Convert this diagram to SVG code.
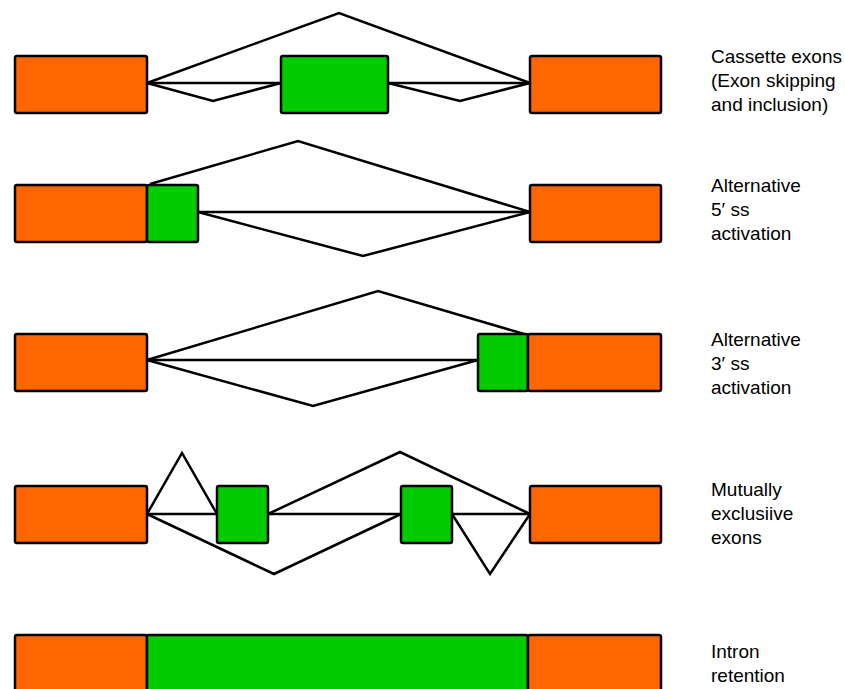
<svg xmlns="http://www.w3.org/2000/svg" width="845" height="689" viewBox="0 0 845 689">
<style>
.o{fill:#ff6600;stroke:#000;stroke-width:2.5}
.g{fill:#00cc00;stroke:#000;stroke-width:2.5}
.c{fill:none;stroke:#000;stroke-width:2.5;stroke-linejoin:miter}
text{font-family:"Liberation Sans",Arial,sans-serif;font-size:19px;fill:#000}
</style>
<rect width="845" height="689" fill="#fff"/>
<g id="connectors">
<polyline class="c" points="147,83 339,13 530,83"/>
<polyline class="c" points="147,83 281,83"/>
<polyline class="c" points="147,83 213,101 281,83"/>
<polyline class="c" points="388,83 530,83"/>
<polyline class="c" points="388,83 460,101 530,83"/>
<polyline class="c" points="150,184 298,141 530,212"/>
<polyline class="c" points="198,212 530,212"/>
<polyline class="c" points="198,212 363,256 530,212"/>
<polyline class="c" points="147,360 378,291 524,334"/>
<polyline class="c" points="147,360 478,360"/>
<polyline class="c" points="147,360 313,406 478,360"/>
<polyline class="c" points="147,514 530,514"/>
<polyline class="c" points="147,514 182,453 217,514"/>
<polyline class="c" points="268,514 400,452 530,514"/>
<polyline class="c" points="147,514 274,574 401,514"/>
<polyline class="c" points="452,514 490,574 530,514"/>
</g>
<g id="row1">
<rect id="r1a" class="o" x="15" y="56" width="132" height="57" rx="2"/>
<rect id="r1b" class="g" x="281" y="56" width="107" height="57" rx="2"/>
<rect id="r1c" class="o" x="530" y="56" width="131" height="57" rx="2"/>
<text x="711" y="63">Cassette exons</text>
<text x="711" y="87">(Exon skipping</text>
<text x="711" y="111">and inclusion)</text>
</g>
<g id="row2">
<rect id="r2a" class="o" x="15" y="185" width="132" height="57" rx="2"/>
<rect id="r2b" class="g" x="147" y="185" width="51" height="57" rx="2"/>
<rect id="r2c" class="o" x="530" y="185" width="131" height="57" rx="2"/>
<text x="711" y="192">Alternative</text>
<text x="711" y="216">5′ ss</text>
<text x="711" y="240">activation</text>
</g>
<g id="row3">
<rect id="r3a" class="o" x="15" y="334" width="132" height="57" rx="2"/>
<rect id="r3b" class="g" x="478" y="334" width="50" height="57" rx="2"/>
<rect id="r3c" class="o" x="528" y="334" width="133" height="57" rx="2"/>
<text x="711" y="346">Alternative</text>
<text x="711" y="370">3′ ss</text>
<text x="711" y="394">activation</text>
</g>
<g id="row4">
<rect id="r4a" class="o" x="15" y="486" width="132" height="57" rx="2"/>
<rect id="r4b" class="g" x="217" y="486" width="51" height="57" rx="2"/>
<rect id="r4c" class="g" x="401" y="486" width="51" height="57" rx="2"/>
<rect id="r4d" class="o" x="530" y="486" width="131" height="57" rx="2"/>
<text x="711" y="496">Mutually</text>
<text x="711" y="520">exclusiive</text>
<text x="711" y="544">exons</text>
</g>
<g id="row5">
<rect id="r5a" class="o" x="15" y="635" width="132" height="70" rx="2"/>
<rect id="r5b" class="g" x="147" y="635" width="381" height="70" rx="2"/>
<rect id="r5c" class="o" x="528" y="635" width="133" height="70" rx="2"/>
<text x="711" y="658">Intron</text>
<text x="711" y="682">retention</text>
</g>
</svg>
